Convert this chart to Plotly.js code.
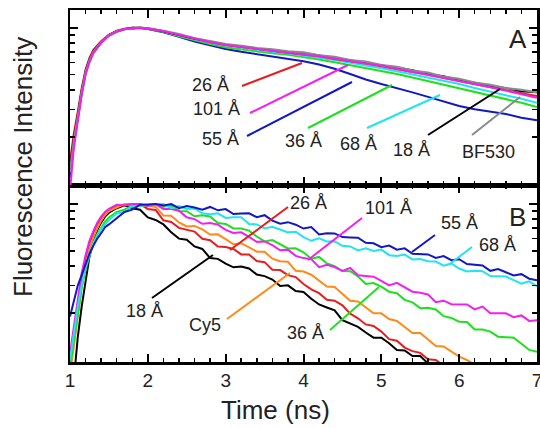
<!DOCTYPE html>
<html>
<head>
<meta charset="utf-8">
<script src="https://cdn.plot.ly/plotly-3.0.1.min.js"></script>
<style>html,body{margin:0;padding:0;background:#fff;}#chart{width:540px;height:428px;}</style>
</head>
<body>
<div id="chart"></div>
<script>
// ---------- DATA ----------
// Panel A time grid (ns)
const tA = [1.0,1.05,1.1,1.15,1.2,1.25,1.3,1.4,1.5,1.6,1.7,1.8,1.9,2.0,2.2,2.4,2.6,2.8,3.0,3.2,3.4,3.6,3.8,4.0,4.2,4.4,4.6,4.8,5.0,5.2,5.4,5.6,5.8,6.0,6.2,6.4,6.6,6.8,7.0];
const A_BF530 = [0.12,0.19,0.27,0.39,0.52,0.62,0.70,0.81,0.895,0.95,0.98,0.995,1.0,0.99,0.955,0.91,0.855,0.82,0.785,0.765,0.74,0.725,0.705,0.695,0.665,0.65,0.62,0.605,0.575,0.56,0.53,0.515,0.485,0.47,0.445,0.43,0.41,0.4,0.385];
const A_18 = [0.13,0.2,0.28,0.4,0.53,0.63,0.71,0.815,0.9,0.95,0.98,1.0,1.0,0.99,0.95,0.9,0.85,0.815,0.78,0.76,0.735,0.72,0.70,0.69,0.665,0.645,0.62,0.6,0.58,0.555,0.535,0.505,0.49,0.46,0.445,0.425,0.41,0.39,0.385];
const A_26 = [0.14,0.21,0.29,0.41,0.54,0.64,0.72,0.82,0.9,0.955,0.985,1.0,0.995,0.985,0.945,0.895,0.845,0.805,0.775,0.75,0.73,0.71,0.69,0.675,0.655,0.63,0.61,0.59,0.565,0.545,0.52,0.5,0.475,0.455,0.435,0.415,0.395,0.38,0.365];
const A_101 = [0.09,0.17,0.25,0.37,0.5,0.6,0.69,0.8,0.89,0.945,0.98,0.995,1.0,0.99,0.95,0.9,0.85,0.81,0.775,0.75,0.73,0.71,0.69,0.675,0.655,0.635,0.61,0.59,0.57,0.545,0.52,0.5,0.475,0.455,0.435,0.415,0.395,0.375,0.355];
const A_68 = [0.12,0.19,0.27,0.39,0.52,0.62,0.70,0.81,0.895,0.95,0.98,0.995,1.0,0.99,0.945,0.89,0.84,0.8,0.77,0.745,0.72,0.70,0.685,0.665,0.645,0.62,0.595,0.575,0.55,0.525,0.5,0.48,0.455,0.435,0.41,0.39,0.37,0.35,0.33];
const A_36 = [0.12,0.19,0.27,0.38,0.51,0.61,0.69,0.80,0.89,0.945,0.975,0.99,1.0,0.985,0.94,0.88,0.83,0.785,0.75,0.725,0.705,0.685,0.67,0.65,0.625,0.6,0.575,0.55,0.53,0.505,0.48,0.455,0.435,0.41,0.39,0.37,0.35,0.33,0.31];
const A_55 = [0.11,0.18,0.26,0.38,0.51,0.61,0.69,0.80,0.89,0.94,0.975,0.99,0.995,0.98,0.935,0.875,0.815,0.77,0.73,0.70,0.675,0.65,0.63,0.61,0.58,0.545,0.505,0.465,0.435,0.41,0.385,0.36,0.335,0.315,0.3,0.29,0.28,0.265,0.255];

// Panel B time grid (ns)
const tB = [1.0,1.05,1.1,1.15,1.2,1.25,1.3,1.35,1.4,1.45,1.5,1.6,1.7,1.8,1.9,2.0,2.1,2.2,2.3,2.4,2.5,2.6,2.7,2.8,2.9,3.0,3.1,3.2,3.3,3.4,3.5,3.6,3.7,3.8,3.9,4.0,4.1,4.2,4.3,4.4,4.5,4.6,4.7,4.8,4.9,5.0,5.1,5.2,5.3,5.4,5.5,5.6,5.7,5.8,5.9,6.0,6.1,6.2,6.3,6.4,6.5,6.6,6.7,6.8,6.9,7.0];
const B_18 = [0.04,0.08,0.14,0.22,0.33,0.46,0.58,0.68,0.76,0.83,0.88,
  0.94,0.98,0.94,0.92,0.82,0.79,0.74,0.66,0.60,0.59,0.535,0.515,0.45,0.445,0.415,0.393,0.398,0.386,0.353,0.345,
  0.328,0.298,0.301,0.277,0.273,0.247,0.227,0.217,0.208,0.18,0.171,0.163,0.15,0.139,0.139,0.128,0.116,0.115,0.106,0.106,
  0.095,0.092,0.088,0.08,0.081,0.075,0.074,0.07,0.069,0.066,0.066,0.062,0.061,0.059,0.058];
const B_26 = [0.1,0.15,0.23,0.34,0.45,0.56,0.65,0.74,0.81,0.87,0.92,
  0.98,0.98,1.0,1.0,0.93,0.917,0.786,0.768,0.703,0.683,0.666,0.598,0.586,0.534,0.53,0.515,0.475,0.474,0.431,0.424,
  0.379,0.377,0.35,0.34,0.307,0.284,0.268,0.243,0.24,0.224,0.198,0.185,0.169,0.165,0.152,0.136,0.133,0.12,0.114,0.111,
  0.101,0.1,0.092,0.092,0.085,0.083,0.078,0.077,0.072,0.071,0.068,0.066,0.064,0.062,0.06];
const B_Cy5 = [0.08,0.12,0.19,0.29,0.4,0.51,0.61,0.7,0.78,0.85,0.9,
  0.95,1.0,1.0,0.97,0.98,0.958,0.843,0.842,0.762,0.718,0.724,0.687,0.637,0.639,0.595,0.552,0.561,0.53,0.495,0.494,
  0.446,0.43,0.426,0.373,0.369,0.352,0.322,0.296,0.294,0.265,0.24,0.237,0.217,0.199,0.199,0.183,0.178,0.162,0.149,0.149,
  0.136,0.123,0.122,0.113,0.105,0.1,0.093,0.09,0.084,0.082,0.077,0.076,0.071,0.071,0.067];
const B_101 = [0.11,0.16,0.25,0.36,0.47,0.58,0.67,0.76,0.83,0.89,0.93,
  0.99,0.98,1.0,1.0,0.97,1.0,0.93,0.93,0.906,0.823,0.8,0.747,0.755,0.738,0.683,0.652,0.659,0.615,0.572,0.576,
  0.545,0.505,0.51,0.465,0.45,0.443,0.394,0.408,0.394,0.372,0.389,0.349,0.345,0.342,0.322,0.301,0.312,0.293,0.274,0.27,
  0.263,0.235,0.24,0.228,0.227,0.227,0.211,0.22,0.199,0.2,0.199,0.188,0.193,0.178,0.18];
const B_36 = [0.09,0.13,0.2,0.29,0.38,0.47,0.56,0.64,0.71,0.77,0.82,
  0.89,0.921,0.98,0.99,0.99,1.0,0.96,0.979,0.902,0.899,0.834,0.847,0.832,0.755,0.745,0.698,0.697,0.675,0.619,0.576,
  0.587,0.55,0.519,0.52,0.49,0.446,0.458,0.416,0.4,0.372,0.371,0.343,0.307,0.311,0.295,0.274,0.268,0.243,0.234,0.215,
  0.216,0.211,0.191,0.186,0.176,0.175,0.157,0.157,0.152,0.141,0.14,0.139,0.127,0.116,0.113];
const B_68 = [0.1,0.15,0.22,0.3,0.39,0.48,0.56,0.63,0.69,0.74,0.79,
  0.869,0.892,0.969,0.97,0.99,0.99,1.0,0.941,0.969,0.93,0.937,0.872,0.861,0.872,0.815,0.823,0.822,0.745,0.74,0.698,
  0.714,0.687,0.658,0.664,0.613,0.581,0.602,0.575,0.577,0.54,0.535,0.504,0.52,0.5,0.51,0.47,0.465,0.474,0.441,0.444,
  0.43,0.428,0.402,0.416,0.386,0.369,0.374,0.371,0.345,0.344,0.343,0.325,0.308,0.319,0.297];
const B_55 = [0.19,0.24,0.3,0.35,0.41,0.48,0.54,0.6,0.65,0.71,0.74,
  0.813,0.889,0.921,0.989,0.99,1.0,0.98,1.0,0.941,0.97,0.95,0.921,0.958,0.911,0.928,0.863,0.87,0.872,0.823,0.848,
  0.782,0.747,0.765,0.737,0.696,0.711,0.638,0.65,0.648,0.614,0.611,0.608,0.564,0.56,0.529,0.541,0.51,0.52,0.48,0.48,
  0.475,0.451,0.464,0.436,0.443,0.412,0.41,0.404,0.373,0.383,0.365,0.348,0.355,0.332,0.325];

// ---------- STYLE ----------
const FONT = '"Liberation Sans", Arial, Helvetica, sans-serif';
const TXT = '#222';
const C = {red:'#e41f1f', magenta:'#f020f0', blue:'#1418c0', green:'#1ee01e', cyan:'#20e4f0', black:'#000000', gray:'#8a8a8a', orange:'#ff8a18'};

function tr(x, y, color, xa, ya, w) {
  return {x:x, y:y, type:'scatter', mode:'lines', xaxis:xa, yaxis:ya,
          line:{color:color, width:w||2}, hoverinfo:'skip', showlegend:false};
}

const data = [
  tr(tA, A_55, C.blue, 'x2', 'y2'),
  tr(tA, A_36, C.green, 'x2', 'y2'),
  tr(tA, A_68, C.cyan, 'x2', 'y2'),
  tr(tA, A_26, C.red, 'x2', 'y2'),
  tr(tA, A_18, C.black, 'x2', 'y2', 1.6),
  tr(tA, A_BF530, C.gray, 'x2', 'y2', 2.2),
  tr(tA, A_101, C.magenta, 'x2', 'y2'),

  tr(tB, B_18, C.black, 'x', 'y'),
  tr(tB, B_26, C.red, 'x', 'y'),
  tr(tB, B_Cy5, C.orange, 'x', 'y'),
  tr(tB, B_36, C.green, 'x', 'y'),
  tr(tB, B_101, C.magenta, 'x', 'y'),
  tr(tB, B_68, C.cyan, 'x', 'y'),
  tr(tB, B_55, C.blue, 'x', 'y')
];

// plot-area pixel box -> paper coords
const X0 = 70, X1 = 537, Y0 = 10, Y1 = 362;
const px = v => (v - X0) / (X1 - X0);
const py = v => (Y1 - v) / (Y1 - Y0);
const split = py(185);

const xBase = {
  range:[1,7], tick0:1, dtick:1, ticks:'inside', ticklen:8, tickwidth:2, tickcolor:'#000',
  minor:{tick0:1, dtick:0.2, ticks:'inside', ticklen:4, tickwidth:1.5, tickcolor:'#000'},
  showline:true, linewidth:2.5, linecolor:'#000', mirror:'ticks',
  showgrid:false, zeroline:false, fixedrange:true
};
const yBase = {
  type:'log', tickmode:'array', tickvals:[1], ticks:'inside', ticklen:8, tickwidth:2, tickcolor:'#000',
  minor:{tickmode:'array', tickvals:[0.2,0.3,0.4,0.5,0.6,0.7,0.8,0.9], ticks:'inside', ticklen:5, tickwidth:1.5, tickcolor:'#000'},
  showticklabels:false, showline:true, linewidth:2.5, linecolor:'#000', mirror:'ticks',
  showgrid:false, zeroline:false, fixedrange:true
};

const labels = [
  // panel A
  {t:'26 Å', x:210, y:85, c:C.red, l:[242,86,302,63]},
  {t:'101 Å', x:216, y:109, c:C.magenta, l:[250,113,348,65]},
  {t:'55 Å', x:220, y:139, c:C.blue, l:[247,136,352,82]},
  {t:'36 Å', x:303, y:141, c:C.green, l:[308,128,392,85]},
  {t:'68 Å', x:358, y:144, c:C.cyan, l:[367,128,440,95]},
  {t:'18 Å', x:411, y:150, c:C.black, l:[428,135,500,89]},
  {t:'BF530', x:488, y:152, c:C.gray, l:[472,135,520,97]},
  // panel B
  {t:'18 Å', x:144, y:311, c:C.black, l:[152,298,213,255]},
  {t:'Cy5', x:205, y:325, c:C.orange, l:[227,319,290,273]},
  {t:'26 Å', x:308, y:203, c:C.red, l:[230,250,288,207]},
  {t:'101 Å', x:388, y:208, c:C.magenta, l:[308,260,362,218]},
  {t:'55 Å', x:459, y:223, c:C.blue, l:[412,252,435,235]},
  {t:'68 Å', x:497, y:245, c:C.cyan, l:[451,263,472,247]},
  {t:'36 Å', x:305, y:333, c:C.green, l:[330,330,379,287]}
];

const annotations = labels.map(o => ({
  text:o.t, xref:'paper', yref:'paper', x:px(o.x), y:py(o.y), xanchor:'center', yanchor:'middle',
  showarrow:false, font:{family:FONT, size:18, color:TXT}
}));
annotations.push({text:'A', xref:'paper', yref:'paper', x:px(517.5), y:py(39), xanchor:'center', yanchor:'middle', showarrow:false, font:{family:FONT, size:26, color:TXT}});
annotations.push({text:'B', xref:'paper', yref:'paper', x:px(517.5), y:py(217), xanchor:'center', yanchor:'middle', showarrow:false, font:{family:FONT, size:26, color:TXT}});
annotations.push({text:'Fluorescence Intensity', textangle:-90, xref:'paper', yref:'paper', x:px(23), y:py(167), xanchor:'center', yanchor:'middle', showarrow:false, font:{family:FONT, size:26, color:TXT}});
annotations.push({text:'Time (ns)', xref:'paper', yref:'paper', x:px(275), y:py(410), xanchor:'center', yanchor:'middle', showarrow:false, font:{family:FONT, size:26, color:TXT}});

const shapes = labels.map(o => ({
  type:'line', xref:'paper', yref:'paper', x0:px(o.l[0]), y0:py(o.l[1]), x1:px(o.l[2]), y1:py(o.l[3]),
  line:{color:o.c, width:2}
}));

const layout = {
  width:540, height:428,
  margin:{l:X0, r:540-X1, t:Y0, b:428-Y1, pad:0},
  paper_bgcolor:'#fff', plot_bgcolor:'#fff',
  font:{family:FONT, color:TXT},
  showlegend:false,
  xaxis:Object.assign({}, xBase, {domain:[0,1], anchor:'y', ticklabeloverflow:'allow',
    tickfont:{family:FONT, size:19, color:TXT}}),
  xaxis2:Object.assign({}, xBase, {domain:[0,1], anchor:'y2', showticklabels:false}),
  yaxis:Object.assign({}, yBase, {domain:[0,split], anchor:'x', range:[-1.013,0.122]}),
  yaxis2:Object.assign({}, yBase, {domain:[split,1], anchor:'x2', range:[-1.008,0.113]}),
  annotations:annotations,
  shapes:shapes
};

Plotly.newPlot('chart', data, layout, {staticPlot:true, displayModeBar:false});
</script>
</body>
</html>
